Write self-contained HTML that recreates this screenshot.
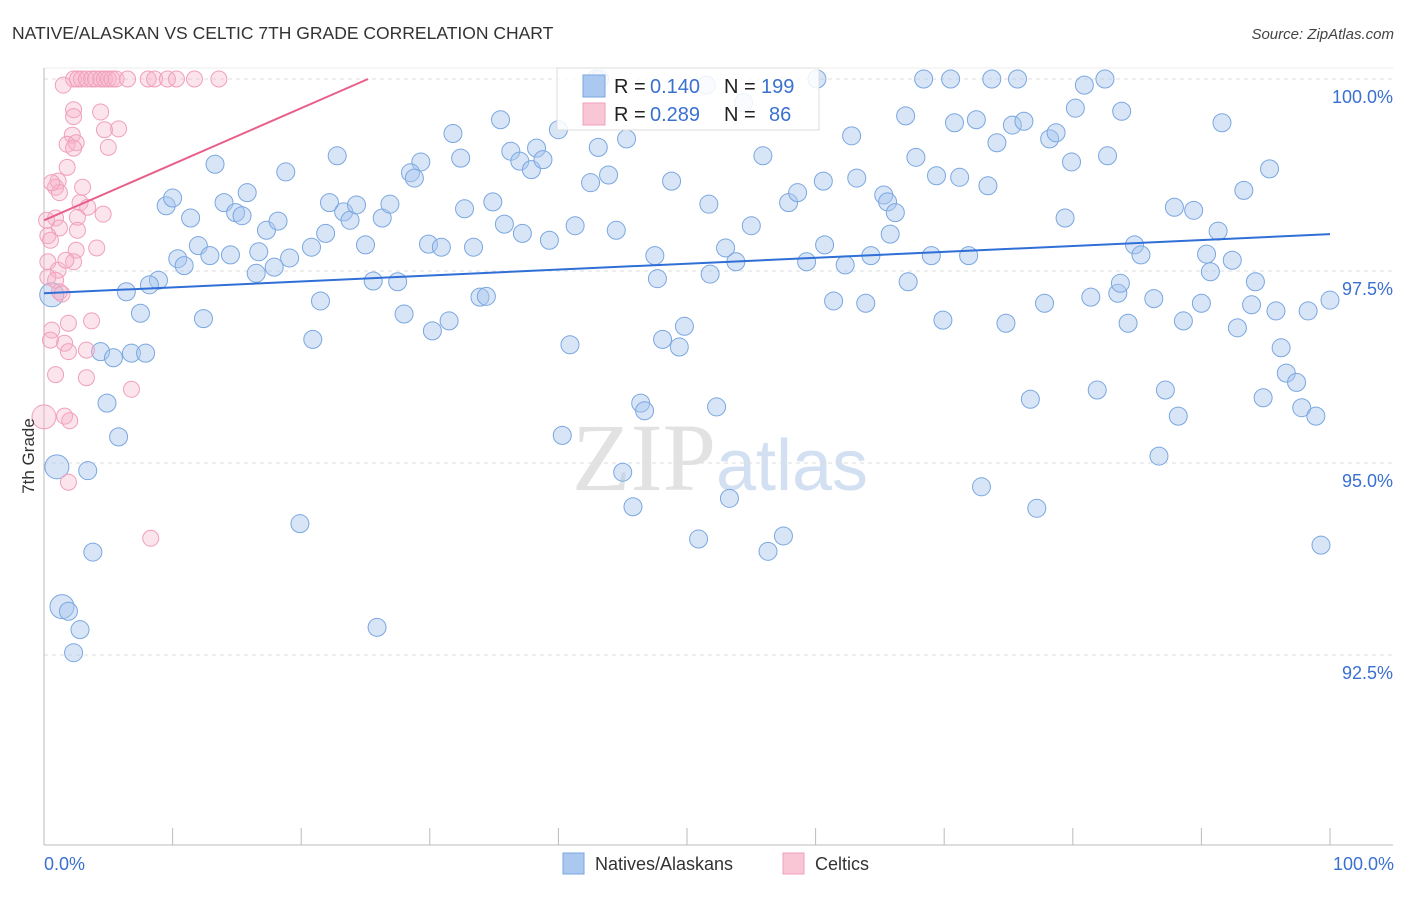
<!DOCTYPE html>
<html><head><meta charset="utf-8"><style>
body{margin:0;background:#fff;font-family:"Liberation Sans",sans-serif;}
svg text{font-family:"Liberation Sans",sans-serif;}
</style></head><body>
<svg id="chart" width="1406" height="892" viewBox="0 0 1406 892" xmlns="http://www.w3.org/2000/svg">
<text x="12" y="39" font-size="17.5" fill="#333">NATIVE/ALASKAN VS CELTIC 7TH GRADE CORRELATION CHART</text>
<text x="1394" y="39" font-size="15" fill="#444" text-anchor="end" font-style="italic">Source: ZipAtlas.com</text>
<text x="720" y="490" font-size="96" fill="#e2e2e2" text-anchor="middle" font-family="Liberation Serif"><tspan font-family="Liberation Serif">ZIP</tspan><tspan font-family="Liberation Sans" font-size="72" fill="#d2e0f2">atlas</tspan></text>
<g id="grid"></g>
<g id="axes"></g>
<g id="pts"></g>
<g id="lines"></g>
<g>
<rect x="557" y="68" width="262" height="62" fill="#fff" fill-opacity="0.85" stroke="#ddd"/>
<rect x="583" y="75" width="22" height="22" fill="#aac8f0" stroke="#7aa7e0"/>
<text x="614" y="93" font-size="20" fill="#222">R = </text><text x="650" y="93" font-size="20" fill="#3a70d0">0.140</text>
<text x="724" y="93" font-size="20" fill="#222">N = </text><text x="761" y="93" font-size="20" fill="#3a70d0">199</text>
<rect x="583" y="103" width="22" height="22" fill="#f9c6d6" stroke="#f0a0bb"/>
<text x="614" y="121" font-size="20" fill="#222">R = </text><text x="650" y="121" font-size="20" fill="#3a70d0">0.289</text>
<text x="724" y="121" font-size="20" fill="#222">N = </text><text x="769" y="121" font-size="20" fill="#3a70d0">86</text>
</g>
<text transform="translate(34,456) rotate(-90)" font-size="17" fill="#333" text-anchor="middle">7th Grade</text>
<text x="44" y="870" font-size="18" fill="#3a70d0">0.0%</text>
<text x="1394" y="870" font-size="18" fill="#3a70d0" text-anchor="end">100.0%</text>
<g><rect x="563" y="853" width="21" height="21" fill="#aac8f0" stroke="#7aa7e0"/><text x="595" y="870" font-size="18" fill="#333">Natives/Alaskans</text></g>
<g><rect x="783" y="853" width="21" height="21" fill="#f9c6d6" stroke="#f0a0bb"/><text x="815" y="870" font-size="18" fill="#333">Celtics</text></g>
</svg>
<script>
const yTicks=[100,97.5,95,92.5];
const yTickLabels=["100.0%","97.5%","95.0%","92.5%"];
const xTicks=[0,10,20,30,40,50,60,70,80,90,100];
const blueX=[42.9,43.2,51.5,60.1,68.4,70.5,73.7,75.7,80.9,82.5,35.5,31.8,40.0,43.1,45.3,36.3,38.3,37.0,37.9,38.8,29.3,28.5,28.8,32.4,22.8,13.3,18.8,9.5,10.0,11.4,14.0,14.9,15.4,15.8,17.3,18.2,22.2,23.3,23.8,24.3,26.3,26.9,21.9,25.0,20.8,19.1,12.0,12.9,14.5,16.5,17.9,10.4,10.9,8.9,8.2,6.4,7.5,12.4,16.7,29.9,30.9,33.4,32.7,34.9,35.8,37.2,39.3,41.3,44.5,42.5,43.9,48.8,51.7,55.0,53.0,53.8,55.9,57.9,58.6,60.6,62.8,63.2,65.3,65.6,66.2,65.8,60.7,59.3,62.3,64.3,67.0,67.8,69.4,70.8,71.2,72.5,73.4,74.1,75.3,76.2,78.2,78.7,79.9,80.2,82.7,83.8,91.6,95.3,93.3,87.9,89.4,91.3,90.4,92.4,79.4,84.8,85.3,69.0,71.9,47.5,47.7,51.8,54.4,25.6,27.5,21.5,28.0,30.2,31.5,33.9,34.4,20.9,40.9,48.1,49.4,49.8,61.4,63.9,67.2,69.9,74.8,77.8,81.4,83.5,83.7,86.3,88.6,90.0,90.7,94.2,93.9,95.8,98.3,100.0,92.8,96.2,96.6,97.4,97.8,98.9,94.8,87.2,88.2,81.9,76.7,84.3,86.7,72.9,77.2,99.3,57.5,56.3,50.9,53.3,52.3,46.4,46.7,45.0,45.8,40.3,19.9,25.9,1.0,3.4,3.8,1.4,1.9,2.8,2.3,5.8,4.9,4.4,5.4,6.8,7.9,0.6];
const blueY=[100,100,99.92,100,100,100,100,100,99.92,100,99.47,99.29,99.34,99.11,99.22,99.06,99.10,98.93,98.82,98.95,98.92,98.78,98.71,98.97,99.00,98.89,98.79,98.35,98.45,98.19,98.39,98.26,98.22,98.52,98.03,98.15,98.39,98.27,98.16,98.36,98.19,98.37,97.99,97.84,97.81,97.67,97.83,97.70,97.71,97.47,97.55,97.66,97.57,97.38,97.32,97.23,96.95,96.88,97.75,97.85,97.81,97.81,98.31,98.40,98.11,97.99,97.90,98.09,98.03,98.65,98.75,98.67,98.37,98.09,97.80,97.62,99.00,98.39,98.52,98.67,99.26,98.71,98.49,98.40,98.26,97.98,97.84,97.62,97.58,97.70,99.52,98.98,98.74,99.43,98.72,99.47,98.61,99.17,99.40,99.45,99.22,99.30,98.92,99.62,99.00,99.58,99.43,98.83,98.55,98.33,98.29,98.02,97.72,97.64,98.19,97.84,97.71,97.70,97.70,97.70,97.40,97.46,99.69,97.37,97.36,97.11,96.94,96.72,96.85,97.16,97.17,96.61,96.54,96.61,96.51,96.78,97.11,97.08,97.36,96.86,96.82,97.08,97.16,97.21,97.34,97.14,96.85,97.08,97.49,97.36,97.06,96.98,96.98,97.12,96.76,96.50,96.17,96.05,95.72,95.61,95.85,95.95,95.61,95.95,95.83,96.82,95.09,94.69,94.41,93.93,94.05,93.85,94.01,94.54,95.73,95.78,95.68,94.88,94.43,95.36,94.21,92.86,94.95,94.90,93.84,93.13,93.07,92.83,92.53,95.34,95.78,96.45,96.37,96.43,96.43,97.19];
const pinkX=[2.3,2.6,2.9,3.3,3.7,4.0,4.4,4.7,5.0,5.3,5.6,6.5,8.1,8.6,9.6,10.3,11.7,13.6,1.5,2.3,4.4,2.3,5.8,4.7,2.2,1.8,2.5,2.3,5.0,1.8,1.1,0.9,3.0,1.2,2.8,3.4,4.6,2.6,0.9,1.2,2.6,0.3,0.5,4.1,2.5,2.3,0.3,1.1,0.3,0.9,1.2,1.4,3.7,1.9,0.6,0.5,1.6,1.9,3.3,0.9,3.3,6.8,1.6,2.0,0.0,1.9,8.3,0.6,0.2,1.7];
const pinkY=[100,100,100,100,100,100,100,100,100,100,100,100,100,100,100,100,100,100,99.92,99.60,99.57,99.51,99.35,99.34,99.27,99.15,99.17,99.10,99.11,98.85,98.67,98.59,98.59,98.52,98.39,98.33,98.24,98.20,98.19,98.06,98.03,97.96,97.90,97.80,97.77,97.62,97.62,97.51,97.42,97.38,97.23,97.20,96.85,96.82,96.73,96.60,96.56,96.45,96.47,96.15,96.11,95.96,95.61,95.55,95.60,94.75,94.02,98.65,98.16,97.64];
const blueTrend=[97.21,97.98];
const pinkTrend=[98.16,100,25.2];
const NS='http://www.w3.org/2000/svg';
const sx=v=>44+v*12.86;
const sy=v=>79+(100-v)*76.8;
function mk(tag,attrs,parent){const e=document.createElementNS(NS,tag);for(const k in attrs)e.setAttribute(k,attrs[k]);parent.appendChild(e);return e;}
const grid=document.getElementById('grid'),axes=document.getElementById('axes'),pts=document.getElementById('pts'),lines=document.getElementById('lines');
yTicks.forEach((t,i)=>{
  const l=mk('line',{x1:44,x2:1393,y1:sy(t),y2:sy(t),stroke:'#ddd','stroke-dasharray':'4,4'},grid);
  
  
  const tx=mk('text',{x:1393,y:sy(t)+24,'font-size':18,fill:'#3a70d0','text-anchor':'end'},axes);
  tx.textContent=yTickLabels[i];
  
  
});
const topBorder=mk('line',{x1:44,x2:1393,y1:68,y2:68,stroke:'#eee'},grid);


const ya=mk('line',{x1:44,x2:44,y1:68,y2:845,stroke:'#bbb'},axes);


const xa=mk('line',{x1:44,x2:1393,y1:845,y2:845,stroke:'#bbb'},axes);


xTicks.forEach(t=>{
  const tk=mk('line',{x1:sx(t),x2:sx(t),y1:828,y2:845,stroke:'#bbb'},axes);
  
  
});
blueX.forEach((x,i)=>{
  const big=(x<2&&(blueY[i]>94.9&&blueY[i]<95||blueY[i]>93.1&&blueY[i]<93.2||blueY[i]>97.1&&blueY[i]<97.2));
  const c=mk('circle',{cx:sx(x),cy:sy(blueY[i]),r:big?12:9,fill:'#a8c6ee','fill-opacity':0.45,stroke:'#7aa7e0','stroke-width':1},pts);
  
  
});
pinkX.forEach((x,i)=>{
  const big=(x===0);
  const c=mk('circle',{cx:sx(x),cy:sy(pinkY[i]),r:big?12:8,fill:'#f6b3c8','fill-opacity':0.35,stroke:'#f0a0bb','stroke-width':1},pts);
  
  
});
const bl=mk('line',{x1:sx(0),y1:sy(blueTrend[0]),x2:sx(100),y2:sy(blueTrend[1]),stroke:'#2f6fd6','stroke-width':2},lines);


const pl=mk('line',{x1:sx(0),y1:sy(pinkTrend[0]),x2:sx(pinkTrend[2]),y2:sy(pinkTrend[1]),stroke:'#e8608a','stroke-width':2},lines);


</script>
</body></html>
